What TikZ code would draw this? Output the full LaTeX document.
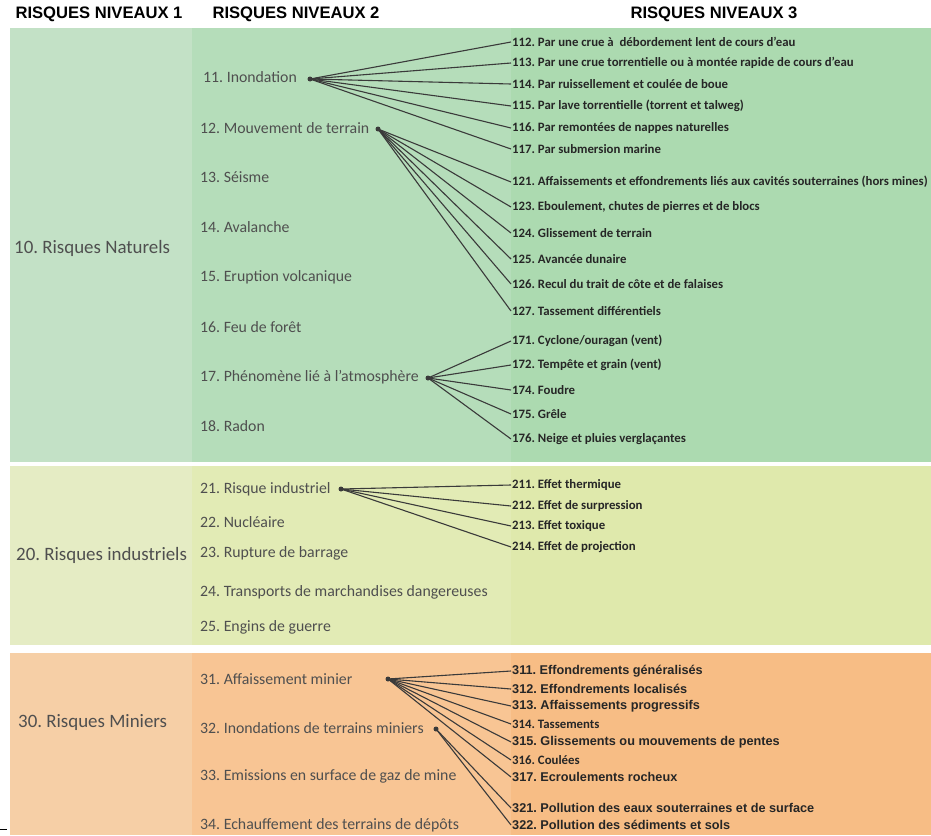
\documentclass[tikz,border=0pt]{standalone}
\usepackage{fontspec}
\setmainfont{Carlito}
\newfontfamily\arialf{Liberation Sans}
\frenchspacing
\definecolor{sIa}{HTML}{C3E1C6}
\definecolor{sIb}{HTML}{B5DDBA}
\definecolor{sIc}{HTML}{ACDAB0}
\definecolor{sIIa}{HTML}{E5ECC4}
\definecolor{sIIb}{HTML}{E2EBB5}
\definecolor{sIIc}{HTML}{DFE9AC}
\definecolor{sIIIa}{HTML}{F6CFA6}
\definecolor{sIIIb}{HTML}{F8C594}
\definecolor{sIIIc}{HTML}{F7BD85}
\definecolor{txtgray}{HTML}{4F4F4F}
\definecolor{txtdark}{HTML}{262626}
\definecolor{linec}{HTML}{3A3A3A}
\tikzset{
  hdr/.style={font=\arialf\bfseries\fontsize{16.6}{18}\selectfont, text=black, inner sep=0pt},
  lvlone/.style={anchor=west, font=\fontsize{18.9}{20}\selectfont, text=txtgray, inner sep=0pt},
  lvltwo/.style={anchor=west, font=\fontsize{15.8}{17}\selectfont, text=txtgray, inner sep=0pt},
  lvlthree/.style={anchor=west, font=\bfseries\fontsize{12.8}{13}\selectfont, text=txtdark, inner xsep=1pt, inner ysep=0pt},
  lvlthreea/.style={anchor=west, font=\arialf\bfseries\fontsize{12.7}{13}\selectfont, text=txtdark, inner xsep=1pt, inner ysep=0pt},
  hub/.style={circle, fill=linec, inner sep=0pt, minimum size=5pt},
  link/.style={draw=linec, line width=1.1pt},
}
\begin{document}
\begin{tikzpicture}[x=1pt,y=-1pt]
\useasboundingbox (0,0) rectangle (931,835);
\fill[white] (0,0) rectangle (931,835);
% section backgrounds
\fill[sIa] (10,28) rectangle (192,462);
\fill[sIb] (192,28) rectangle (511,462);
\fill[sIc] (511,28) rectangle (931,462);
\fill[sIIa] (10,466) rectangle (192,645);
\fill[sIIb] (192,466) rectangle (511,645);
\fill[sIIc] (511,466) rectangle (931,645);
\fill[sIIIa] (10,653) rectangle (192,835);
\fill[sIIIb] (192,653) rectangle (511,835);
\fill[sIIIc] (511,653) rectangle (931,835);
\draw[black, line width=1pt] (0,829) -- (7,829);
% headers
\node[hdr] (h1) at (99,14) {RISQUES NIVEAUX 1};
\node[hdr] (h2) at (296,14) {RISQUES NIVEAUX 2};
\node[hdr] (h3) at (714,14) {RISQUES NIVEAUX 3};
% level 1
\node[lvlone] (n10) at (14,248) {10. Risques Naturels};
\node[lvlone] (n20) at (16,555) {20. Risques industriels};
\node[lvlone] (n30) at (18,723) {30. Risques Miniers};
% level 2
\node[lvltwo] (n11) at (203,77) {11. Inondation};
\node[lvltwo] (n12) at (200,128) {12. Mouvement de terrain};
\node[lvltwo] (n13) at (200,177) {13. Séisme};
\node[lvltwo] (n14) at (200,227) {14. Avalanche};
\node[lvltwo] (n15) at (200,277) {15. Eruption volcanique};
\node[lvltwo] (n16) at (200,327) {16. Feu de forêt};
\node[lvltwo] (n17) at (200,377) {17. Phénomène lié à l’atmosphère};
\node[lvltwo] (n18) at (200,426) {18. Radon};
\node[lvltwo] (n21) at (200,489) {21. Risque industriel};
\node[lvltwo] (n22) at (200,522) {22. Nucléaire};
\node[lvltwo] (n23) at (200,553) {23. Rupture de barrage};
\node[lvltwo] (n24) at (200,592) {24. Transports de marchandises dangereuses};
\node[lvltwo] (n25) at (200,627) {25. Engins de guerre};
\node[lvltwo] (n31) at (200,679) {31. Affaissement minier};
\node[lvltwo] (n32) at (200,728) {32. Inondations de terrains miniers};
\node[lvltwo] (n33) at (200,776) {33. Emissions en surface de gaz de mine};
\node[lvltwo] (n34) at (200,825) {34. Echauffement des terrains de dépôts};
% hubs
\node[hub] (d11) at (310,79) {};
\node[hub] (d12) at (378,129) {};
\node[hub] (d17) at (428,378) {};
\node[hub] (d21) at (341,489) {};
\node[hub] (d31) at (388,679) {};
\node[hub] (d32) at (436,729) {};
% level 3
\node[lvlthree] (t112) at (511,42) {112. Par une crue à~~débordement lent de cours d’eau};
\node[lvlthree] (t113) at (511,63) {113. Par une crue torrentielle ou à montée rapide de cours d’eau};
\node[lvlthree] (t114) at (511,84) {114. Par ruissellement et coulée de boue};
\node[lvlthree] (t115) at (511,106) {115. Par lave torrentielle (torrent et talweg)};
\node[lvlthree] (t116) at (511,128) {116. Par remontées de nappes naturelles};
\node[lvlthree] (t117) at (511,149) {117. Par submersion marine};
\node[lvlthree] (t121) at (511,182) {121. Affaissements et effondrements liés aux cavités souterraines (hors mines)};
\node[lvlthree] (t123) at (511,207) {123. Eboulement, chutes de pierres et de blocs};
\node[lvlthree] (t124) at (511,233) {124. Glissement de terrain};
\node[lvlthree] (t125) at (511,259) {125. Avancée dunaire};
\node[lvlthree] (t126) at (511,284) {126. Recul du trait de côte et de falaises};
\node[lvlthree] (t127) at (511,311) {127. Tassement différentiels};
\node[lvlthree] (t171) at (511,341) {171. Cyclone/ouragan (vent)};
\node[lvlthree] (t172) at (511,365) {172. Tempête et grain (vent)};
\node[lvlthree] (t174) at (511,390) {174. Foudre};
\node[lvlthree] (t175) at (511,414) {175. Grêle};
\node[lvlthree] (t176) at (511,439) {176. Neige et pluies verglaçantes};
\node[lvlthree] (t211) at (511,485) {211. Effet thermique};
\node[lvlthree] (t212) at (511,506) {212. Effet de surpression};
\node[lvlthree] (t213) at (511,526) {213. Effet toxique};
\node[lvlthree] (t214) at (511,547) {214. Effet de projection};
\node[lvlthreea] (t311) at (511,671) {311. Effondrements généralisés};
\node[lvlthreea] (t312) at (511,689) {312. Effondrements localisés};
\node[lvlthreea] (t313) at (511,706) {313. Affaissements progressifs};
\node[lvlthree] (t314) at (511,724) {314. Tassements};
\node[lvlthreea] (t315) at (511,742) {315. Glissements ou mouvements de pentes};
\node[lvlthree] (t316) at (511,760) {316. Coulées};
\node[lvlthreea] (t317) at (511,777) {317. Ecroulements rocheux};
\node[lvlthreea] (t321) at (511,808) {321. Pollution des eaux souterraines et de surface};
\node[lvlthreea] (t322) at (511,825) {322. Pollution des sédiments et sols};
% links
\foreach \t in {112,113,114,115,116,117} \draw[link] (d11.center) -- (t\t.west);
\foreach \t in {121,123,124,125,126,127} \draw[link] (d12.center) -- (t\t.west);
\foreach \t in {171,172,174,175,176} \draw[link] (d17.center) -- (t\t.west);
\foreach \t in {211,212,213,214} \draw[link] (d21.center) -- (t\t.west);
\foreach \t in {311,312,313,314,315,316,317} \draw[link] (d31.center) -- (t\t.west);
\foreach \t in {321,322} \draw[link] (d32.center) -- (t\t.west);
\end{tikzpicture}
\end{document}
